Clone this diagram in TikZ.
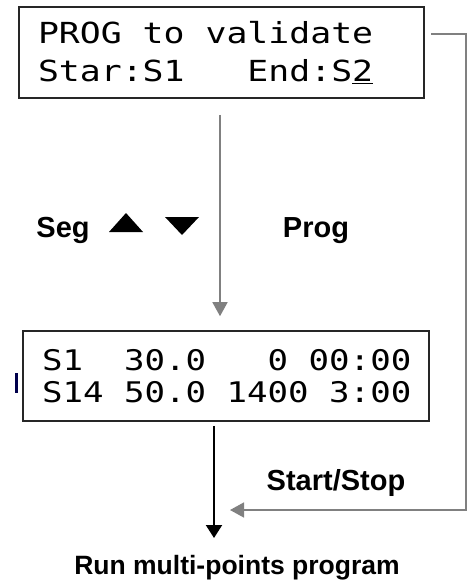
\documentclass[tikz,border=0pt]{standalone}
\usepackage{fontspec}
\setmainfont{Liberation Sans}
\newfontfamily\lcdfont[FakeStretch=1.2]{DejaVu Sans Mono}
\newcommand\lcdsp{\phantom{0}}
\usetikzlibrary{arrows.meta}

\tikzset{
  lcdbox/.style={draw=black!85, line width=2pt, align=left, inner ysep=0pt, inner xsep=19pt},
  keylabel/.style={font=\fontsize{29}{32}\selectfont\bfseries, inner sep=0pt},
  greyarrow/.style={draw=black!50, line width=1.6pt, -{Triangle[length=14pt,width=15pt]}},
  blackarrow/.style={draw=black, line width=2pt, -{Triangle[length=13pt,width=16pt]}}
}

\begin{document}
\begin{tikzpicture}[x=1pt, y=-1pt]
    \useasboundingbox (0,0) rectangle (472,588);

    % LCD screens
    \node[lcdbox, text width=367pt, minimum height=91pt,
          font=\lcdfont\fontsize{29}{38}\selectfont] (prog) at (221.5,52.5)
        {PROG\lcdsp{}to\lcdsp{}validate\\Star:S1\lcdsp\lcdsp\lcdsp{}End:S\underline{2}};
    \node[lcdbox, line width=1.6pt, text width=368pt, minimum height=90pt,
          font=\lcdfont\fontsize{28.4}{32.5}\selectfont] (steps) at (226,376)
        {S1\lcdsp\lcdsp{}30.0\lcdsp\lcdsp\lcdsp{}0\lcdsp{}00:00\\S14\lcdsp{}50.0\lcdsp{}1400\lcdsp{}3:00};

    % Key labels
    \node[keylabel] (seg) at (63,230) {Seg};
    \node[keylabel] (progkey) at (316,231) {Prog};
    \node[keylabel] (startstop) at (336,483) {Start/Stop};
    \node[font=\fontsize{26.5}{30}\selectfont\bfseries, inner sep=0pt] (run) at (237,568)
        {Run multi-points program};

    % Up and down keys
    \foreach \cx/\ya/\yb in {126/232/213, 182/217/235} {
        \fill (\cx-17,\ya) -- (\cx+17,\ya) -- (\cx,\yb) -- cycle;
    }

    % Connectors
    \coordinate (runtip) at (214,538);
    \coordinate (startin) at (230,510);
    \draw[greyarrow, shorten <=16pt, shorten >=14pt]
        ([xshift=-1.5pt]prog.south) -- ([xshift=-1.5pt]prog.south |- steps.north);
    \draw[blackarrow, shorten <=4pt] (steps.south -| runtip) -- (runtip);
    \draw[greyarrow] ([shift={(6pt,18.5pt)}]prog.east) -- ++(35,0) |- (startin);

    \fill[blue!30!black] (15,373) rectangle (17.5,393);
\end{tikzpicture}
\end{document}
